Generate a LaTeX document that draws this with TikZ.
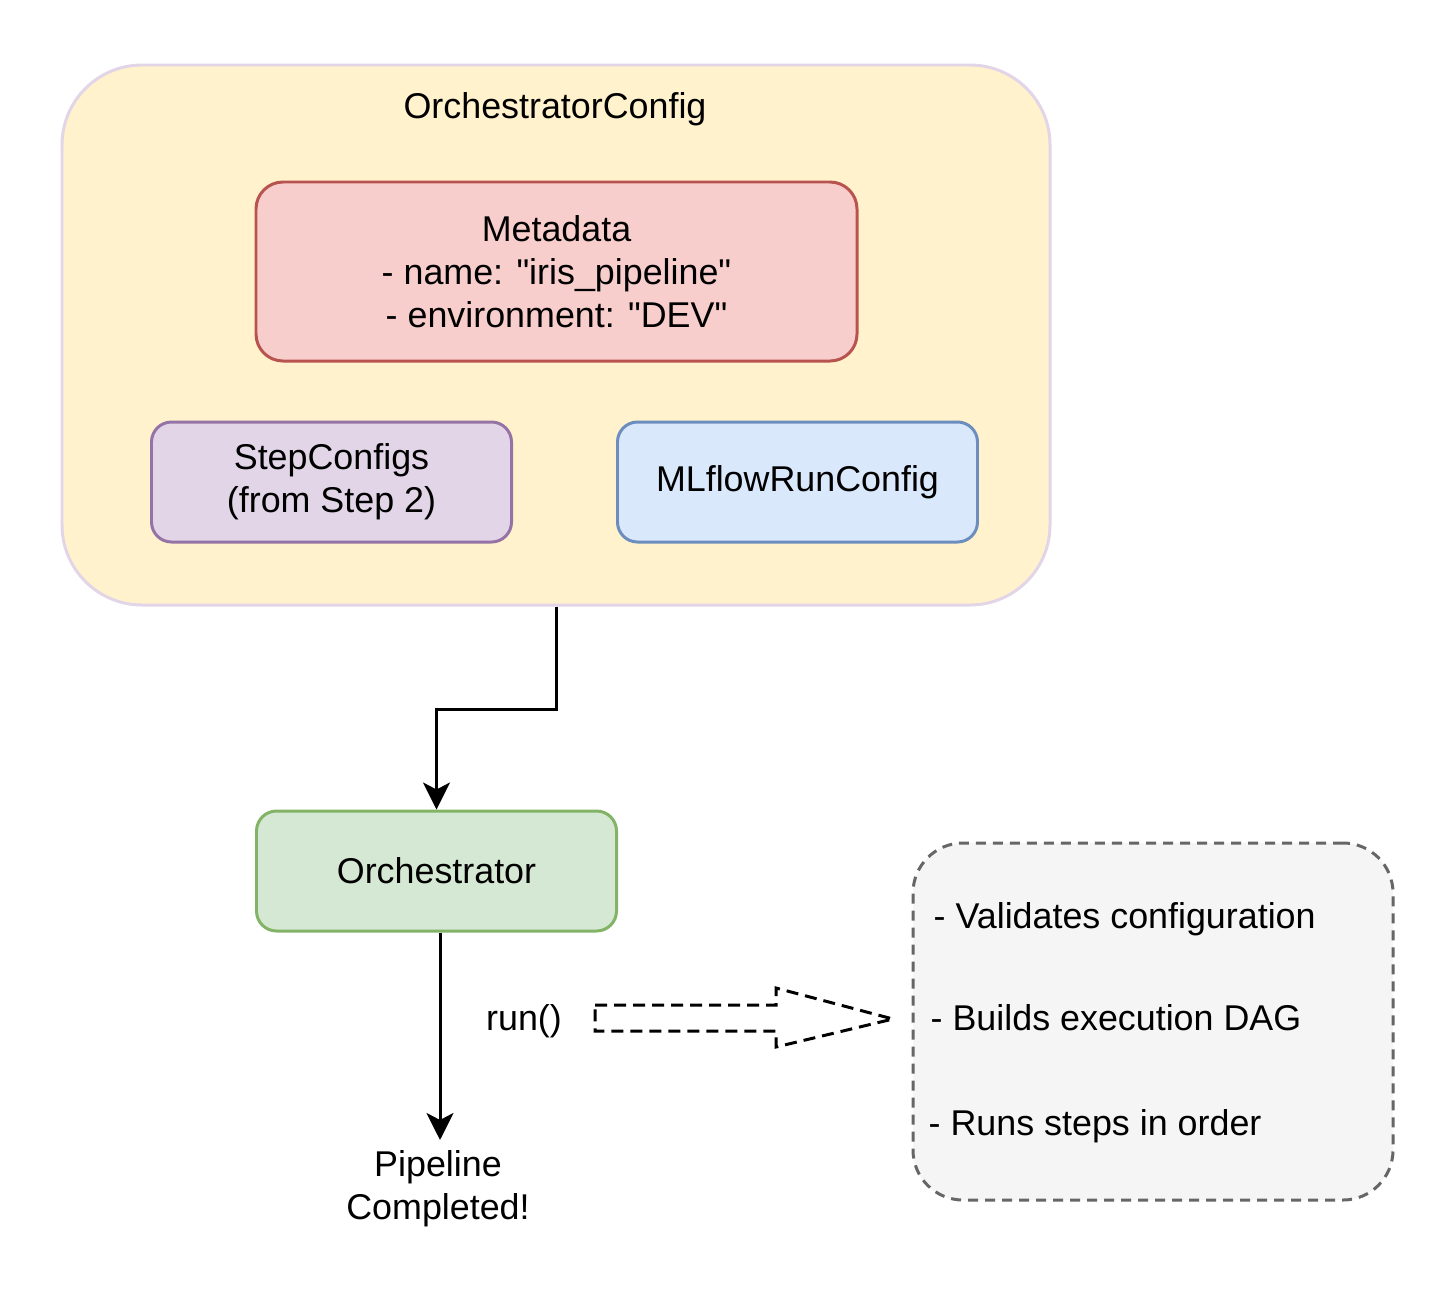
\documentclass[tikz,border=0pt]{standalone}
\usepackage{fontspec}
\setmainfont{Liberation Sans}
\usetikzlibrary{arrows.meta, positioning, calc}

\definecolor{cfgfill}{HTML}{FFF2CC}
\definecolor{cfgline}{HTML}{E1D5E7}
\definecolor{metafill}{HTML}{F8CECC}
\definecolor{metaline}{HTML}{B85450}
\definecolor{stepfill}{HTML}{E1D5E7}
\definecolor{stepline}{HTML}{9673A6}
\definecolor{mlfill}{HTML}{DAE8FC}
\definecolor{mlline}{HTML}{6C8EBF}
\definecolor{orchfill}{HTML}{D5E8D4}
\definecolor{orchline}{HTML}{82B366}
\definecolor{notefill}{HTML}{F5F5F5}
\definecolor{noteline}{HTML}{666666}

\begin{document}
\begin{tikzpicture}[
    font=\fontsize{10.2}{12.3}\selectfont,
    node distance=0.5cm,
    block/.style={rectangle, rounded corners=0.2cm, draw, line width=0.85pt, minimum width=3.6cm, minimum height=1.2cm, align=center},
    container/.style={rectangle, rounded corners=0.8cm, draw=cfgline, fill=cfgfill, line width=0.85pt, minimum width=9.88cm, minimum height=5.4cm},
    notebox/.style={rectangle, rounded corners=0.5cm, draw=noteline, fill=notefill, line width=0.85pt, dash pattern=on 0.1cm off 0.07cm, minimum width=4.8cm, minimum height=3.57cm},
    txt/.style={inner sep=0pt, anchor=base west},
    arrow/.style={-{Stealth[length=0.27cm, width=0.27cm, inset=0.07cm]}, line width=0.85pt},
    hollow/.style={line width=0.85pt, dash pattern=on 0.12cm off 0.07cm}
]
\useasboundingbox (0,0) rectangle (14.55,-12.93);

% Config container
\node[container] (config) at (5.56,-3.35) {};
\node[inner sep=0pt, anchor=base] (configlabel) at (5.55,-1.18) {OrchestratorConfig};

% Parts of the config
\node[block, fill=metafill, draw=metaline, minimum width=6.01cm, minimum height=1.79cm, rounded corners=0.27cm] (meta) at (5.565,-2.715) {Metadata\\- name: \textquotedbl iris\_pipeline\textquotedbl\\- environment: \textquotedbl DEV\textquotedbl};
\node[block, fill=stepfill, draw=stepline] (steps) at (3.315,-4.82) {StepConfigs\\(from Step 2)};
\node[block, fill=mlfill, draw=mlline, right=1.03cm of steps] (mlflow) {MLflowRunConfig};

% Orchestrator
\node[block, fill=orchfill, draw=orchline] (orch) at (4.365,-8.71) {Orchestrator};
\node[align=center, inner sep=0.1cm] (done) at (4.38,-11.89) {Pipeline\\Completed!};
\node[inner sep=0pt, anchor=base] (runlbl) at (5.24,-10.30) {run()};
\coordinate (orchout) at ($(orch.south)+(0.035,0)$);

% Notes box
\node[notebox] (notes) at (11.53,-10.215) {};
\node[txt] (note1) at (9.33,-9.28) {- Validates configuration};
\node[txt] (note2) at (9.30,-10.30) {- Builds execution DAG};
\node[txt] (note3) at (9.28,-11.35) {- Runs steps in order};

% Arrows
\draw[arrow] (config.south) -- ++(0,-1.03) -| (orch.north);
\draw[arrow] (orchout) -- (orchout |- done.north);
\draw[hollow] (5.95,-10.05) -- (7.76,-10.05) -- (7.76,-9.88) -- (8.93,-10.19)
    -- (7.76,-10.47) -- (7.76,-10.31) -- (5.95,-10.31) -- cycle;
\end{tikzpicture}
\end{document}
